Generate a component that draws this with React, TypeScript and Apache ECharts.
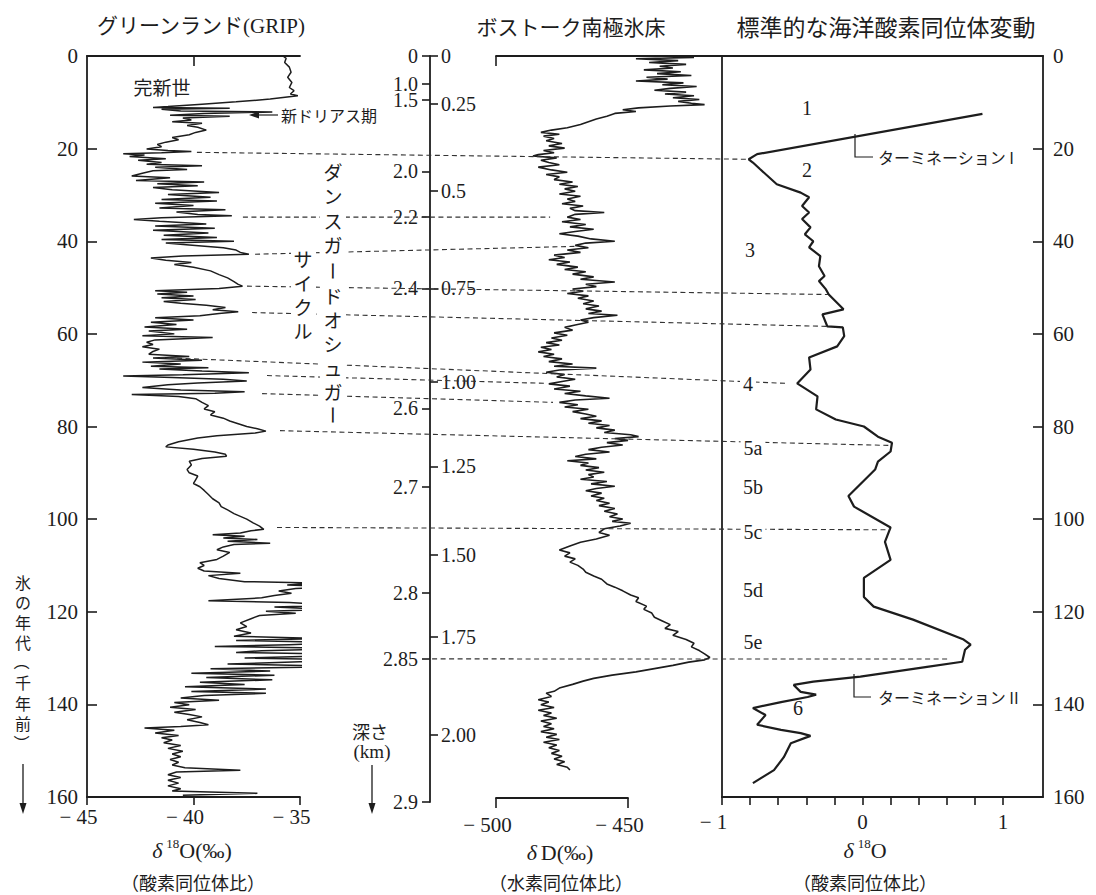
import React, { useEffect, useRef } from "react";
import * as echarts from "echarts";

const SERIF = "'Liberation Serif', 'DejaVu Serif', 'Noto Sans CJK JP', serif";
const JP = "'Noto Sans CJK JP', 'Noto Sans', sans-serif";
const INK = "#1d1d1d";

// ---------- tick values / labels ----------
const gripXRange = [-45, -35];
const vostokXRange = [-500, -450];
const marineXRange = [-1, 1];
const marineTicks = [-1, -0.8, -0.6, -0.4, -0.2, 0, 0.2, 0.4, 0.6, 0.8, 1];
const marineLabelTicks = [-1, 0, 1];
// Vostok depth (km) labels, placed at their age (kyr)
const depthLabels = ["0", "1.0", "1.5", "2.0", "2.2", "2.4", "2.6", "2.7", "2.8", "2.85", "2.9"];
const depthAges = [0, 6.1, 9.5, 24.9, 34.8, 50.2, 76.1, 93.0, 115.9, 130.2, 161.1];
const innerLabels = ["0", "0.25", "0.5", "0.75", "1.00", "1.25", "1.50", "1.75", "2.00"];
const innerAges = [0, 10.4, 29.2, 50.2, 70.3, 88.6, 107.7, 125.4, 146.6];

// ---------- data: [age (kyr BP), value] ----------
const gripData: [number, number][] = [
  [0, -35.8], [0.5, -35.65], [1.4, -35.72], [2.4, -35.5], [3.5, -35.42], [4.6, -35.58], [5.7, -35.38], [6.8, -35.5], [7.5, -35.28], [8.2, -35.45], [8.6, -35.1],
  [9.3, -36.4], [9.9, -38.0], [10.4, -39.6], [10.9, -41.2], [11.1, -41.9], [11.3, -38.3], [11.5, -41.5], [11.9, -40.6], [12.1, -36.3], [12.4, -39.5], [12.8, -41.1], [13.0, -38.3], [13.4, -40.5], [13.8, -40.1], [14.2, -41.0], [14.5, -39.6], [15.0, -40.3], [15.4, -39.8], [16.0, -39.4], [16.5, -39.9], [17.0, -40.2], [17.6, -41.0], [18.1, -40.7], [18.6, -41.3], [19.1, -41.7], [19.6, -41.5], [20.1, -42.2], [20.4, -41.2], [20.6, -40.1], [20.9, -41.5],
  [21.1, -43.3], [21.4, -42.3], [21.7, -43.0], [22.2, -41.3], [22.5, -42.6], [23.0, -41.5], [23.4, -42.2], [23.7, -39.6], [24.0, -41.8], [24.5, -40.3], [24.8, -41.9], [25.3, -42.4], [25.9, -42.9], [26.3, -41.1], [26.9, -42.7], [27.2, -39.5], [27.6, -41.7], [28.0, -39.8], [28.4, -41.9], [28.9, -41.0], [29.5, -38.8], [29.9, -41.2], [30.5, -39.2], [31.0, -41.5], [31.3, -38.9], [31.8, -41.8], [32.3, -40.0], [32.8, -41.6], [33.2, -38.5], [33.7, -40.8], [34.2, -39.8], [34.5, -38.2], [34.9, -41.5],
  [35.3, -42.8], [35.7, -41.6], [36.3, -39.4], [36.7, -41.8], [37.2, -39.0], [37.6, -41.9], [38.2, -39.3], [38.7, -41.4], [39.2, -38.9], [39.6, -41.5], [40.0, -38.1], [40.4, -41.3], [40.8, -40.2], [41.4, -38.6], [41.9, -38.0], [42.4, -37.8], [42.8, -37.4], [43.2, -40.5], [43.6, -42.0], [44.1, -41.3], [44.6, -40.1], [45.0, -40.9], [45.6, -40.0], [46.4, -39.2], [47.2, -38.8], [47.9, -38.4], [48.7, -38.1], [49.3, -37.9], [49.7, -37.7],
  [50.2, -38.8], [50.7, -41.8], [51.0, -40.3], [51.4, -41.7], [51.8, -40.0], [52.2, -41.5], [52.6, -39.9], [53.0, -41.4], [53.4, -40.6], [53.8, -39.4], [54.3, -38.5], [54.8, -39.1], [55.2, -37.9], [55.6, -38.8], [56.1, -39.7], [56.5, -41.8], [57.0, -40.0], [57.5, -42.0], [58.0, -40.8], [58.5, -42.3], [59.0, -40.3], [59.4, -42.1], [60.0, -40.9], [60.4, -42.4], [60.8, -39.1], [61.3, -41.8], [61.8, -42.2], [62.3, -41.9], [62.8, -42.4], [63.3, -41.6], [63.8, -41.9], [64.4, -42.1], [64.9, -40.2], [65.2, -41.9], [65.7, -39.6], [66.1, -42.4],
  [66.5, -40.6], [67.0, -42.0], [67.3, -39.3], [67.6, -41.6], [68.0, -39.6], [68.4, -37.4], [68.8, -40.5], [69.1, -43.3], [69.4, -41.0], [69.8, -38.6], [70.2, -37.5], [70.6, -39.8], [71.0, -41.2], [71.6, -42.4], [72.1, -40.6], [72.5, -37.6], [72.8, -39.0], [73.1, -42.9], [73.5, -40.7], [74.0, -39.9], [74.8, -39.6], [75.5, -39.3], [76.2, -39.5], [76.8, -39.0], [77.5, -39.2], [78.2, -38.6], [78.8, -38.3], [79.4, -37.9], [80.0, -37.5], [80.5, -37.0], [81.0, -36.6], [81.4, -37.1],
  [82.0, -38.9], [82.5, -39.8], [83.3, -40.7], [84.0, -41.2], [84.4, -41.3], [84.9, -40.0], [85.5, -39.0], [86.0, -38.5], [86.4, -38.45], [86.9, -39.6], [87.5, -40.2], [88.3, -40.1], [89.3, -40.3], [90.0, -40.2], [90.7, -39.8], [91.5, -39.9], [92.3, -40.0], [93.0, -39.7], [93.8, -39.5], [94.7, -39.3], [95.6, -39.1], [96.5, -38.8], [97.3, -38.7], [98.0, -38.4], [98.8, -38.1], [99.4, -37.8], [100.0, -37.5], [100.8, -37.2], [101.5, -36.9], [102.2, -36.7],
  [102.5, -37.3], [103.0, -37.8], [103.4, -39.1], [103.7, -37.6], [104.1, -38.6], [104.4, -37.0], [104.8, -38.4], [105.2, -36.4], [105.5, -38.1], [106.0, -38.6], [106.6, -38.9], [107.2, -38.3], [108.0, -38.6], [108.7, -38.9], [109.4, -39.7], [110.0, -39.5], [110.6, -39.8], [111.2, -39.5], [111.7, -37.8], [112.2, -39.3], [112.8, -38.8], [113.5, -37.6], [113.8, -34.3], [114.2, -35.6], [114.6, -33.6], [115.0, -35.2], [115.5, -36.0], [116.0, -35.4], [116.5, -36.2], [117.0, -36.8], [117.6, -39.3], [118.0, -35.5], [118.6, -33.0], [119.0, -36.2], [119.5, -33.3], [119.9, -36.6],
  [120.3, -35.2], [120.8, -36.9], [121.5, -37.3], [122.4, -37.8], [123.2, -37.5], [123.9, -38.0], [124.6, -37.3], [125.3, -38.1], [125.8, -33.8], [126.2, -38.0], [126.7, -32.5], [127.1, -35.5], [127.5, -39.0], [127.9, -32.4], [128.4, -36.8], [128.8, -38.0], [129.2, -32.5], [129.6, -34.5], [130.0, -37.6], [130.4, -32.4], [130.8, -35.0], [131.3, -38.4], [131.8, -32.4], [132.3, -39.2], [132.8, -36.4], [133.3, -40.1], [133.7, -36.2], [134.2, -39.4], [134.7, -36.3], [135.2, -39.7], [135.7, -37.6], [136.2, -40.4], [136.7, -36.6], [137.2, -40.1], [137.6, -36.6], [138.1, -39.5],
  [138.6, -40.6], [139.1, -38.8], [139.6, -40.9], [140.1, -40.2], [140.6, -41.1], [141.1, -39.9], [141.7, -40.9], [142.2, -40.2], [142.7, -39.6], [143.3, -40.3], [143.9, -39.7], [144.4, -39.3], [144.8, -40.6], [145.1, -42.3], [145.6, -40.9], [146.2, -41.8], [146.7, -40.7], [147.2, -41.5], [147.7, -41.0], [148.3, -41.4], [148.9, -40.6], [149.5, -41.2], [150.1, -40.5], [150.7, -41.0], [151.3, -40.6], [151.9, -41.1], [152.5, -40.7], [153.1, -41.0], [153.7, -40.4], [154.2, -37.8], [154.6, -40.8], [155.2, -41.2], [155.8, -40.6], [156.4, -41.2], [157.0, -40.7], [157.6, -41.2], [158.2, -40.6], [158.7, -41.0], [159.2, -37.0], [159.6, -40.5],
];

const vostokData: [number, number][] = [
  [0, -440], [0.3, -425], [0.6, -447], [1.0, -431], [1.4, -442], [1.8, -428], [2.2, -438], [2.6, -433], [3.0, -444], [3.4, -430], [3.8, -439], [4.2, -426], [4.6, -443], [5.0, -435], [5.4, -447], [5.8, -429], [6.2, -437], [6.6, -424], [7.0, -434], [7.4, -440], [7.8, -428], [8.2, -436], [8.6, -425], [9.0, -433], [9.4, -423], [9.8, -431], [10.2, -426], [10.5, -421], [10.8, -434],
  [11.2, -446], [11.6, -452], [12.0, -447], [12.4, -455], [13.0, -458], [13.6, -462], [14.2, -465], [14.8, -468], [15.5, -473], [16.0, -479], [16.5, -483], [16.9, -476], [17.3, -482], [17.8, -478], [18.3, -481], [18.9, -475], [19.4, -480], [19.9, -474], [20.4, -482], [20.9, -478], [21.3, -484], [21.6, -486], [22.0, -477], [22.5, -483], [23.0, -480], [23.5, -476], [24.0, -484], [24.6, -479], [25.1, -473], [25.6, -481], [26.1, -476], [26.7, -478], [27.2, -471], [27.7, -476], [28.2, -469], [28.7, -474], [29.2, -470], [29.8, -476], [30.3, -468], [30.9, -473], [31.4, -470], [31.9, -475], [32.4, -467], [32.9, -472], [33.4, -470], [33.8, -459], [34.2, -470], [34.8, -473], [35.3, -468], [35.8, -475], [36.4, -466], [36.9, -472], [37.4, -463], [37.9, -470], [38.4, -476], [38.9, -469], [39.5, -464], [40.0, -455], [40.4, -466], [40.9, -470], [41.4, -465], [41.9, -473], [42.4, -468], [43.0, -478], [43.5, -474], [44.0, -480], [44.5, -472], [45.0, -477], [45.6, -469], [46.1, -474], [46.6, -466], [47.1, -471], [47.7, -463], [48.2, -468], [48.8, -455], [49.3, -466], [49.8, -462], [50.3, -471], [50.8, -467], [51.3, -473], [51.8, -465], [52.3, -469], [52.9, -463], [53.5, -467], [54.0, -461], [54.6, -466], [55.1, -460], [55.6, -465], [56.0, -454], [56.5, -463], [57.0, -468], [57.5, -465], [58.1, -470], [58.6, -474], [59.2, -471], [59.8, -478], [60.3, -473], [60.9, -479], [61.4, -475], [61.9, -481], [62.4, -476], [62.9, -483], [63.4, -479], [63.9, -484], [64.4, -478], [64.9, -482], [65.4, -475], [66.0, -480], [66.5, -471], [67.0, -478], [67.4, -462], [67.8, -476], [68.3, -481], [68.8, -474], [69.3, -477], [69.8, -470], [70.3, -475], [70.8, -480], [71.3, -472], [71.9, -478], [72.4, -468], [72.9, -474], [73.4, -466], [73.9, -457], [74.3, -470], [74.8, -476], [75.3, -469], [75.8, -474], [76.3, -465], [76.8, -471], [77.3, -466], [77.8, -462], [78.3, -468], [78.8, -460], [79.3, -465], [79.8, -457], [80.3, -462], [80.8, -455], [81.3, -459], [81.8, -449], [82.2, -446], [82.6, -455], [83.0, -450], [83.5, -458], [84.0, -452], [84.5, -460], [85.0, -465], [85.5, -457], [86.0, -466], [86.5, -470], [87.0, -462], [87.4, -473], [87.9, -465], [88.4, -468], [88.9, -461], [89.4, -466], [89.9, -459], [90.4, -465], [90.9, -463], [91.4, -468], [91.9, -458], [92.4, -464], [92.9, -455], [93.4, -462], [93.9, -466], [94.4, -460], [95.0, -464], [95.5, -459], [96.0, -462], [96.6, -457], [97.1, -461], [97.7, -455], [98.3, -459], [98.9, -454], [99.5, -457], [100.0, -452], [100.5, -456], [100.9, -449], [101.5, -453], [102.1, -459], [102.9, -461], [103.5, -457], [104.3, -462], [105.0, -468], [105.8, -472], [106.7, -476], [107.3, -472], [108.0, -474], [108.6, -470], [109.3, -472], [110.0, -469], [110.8, -467], [111.5, -466], [112.3, -463], [113.0, -460], [114.0, -458], [114.7, -455], [115.5, -452], [116.4, -449], [117.0, -446], [117.8, -447], [118.8, -443], [119.5, -444], [120.3, -441], [121.2, -440], [122.0, -437], [122.8, -434], [123.6, -436], [124.3, -431], [125.1, -433], [126.0, -428], [126.8, -425], [127.6, -426], [128.4, -423], [129.1, -421], [129.9, -419], [130.4, -421], [130.9, -427], [131.6, -433], [132.3, -440], [133.0, -447], [133.7, -456], [134.4, -463], [135.0, -467], [135.7, -471], [136.5, -476], [137.2, -478], [137.6, -481], [138.3, -479], [139.0, -484], [139.5, -480], [140.1, -483], [140.7, -478], [141.3, -484], [141.9, -479], [142.4, -482], [143.0, -477], [143.6, -483], [144.2, -479], [144.8, -482], [145.3, -478], [145.9, -483], [146.5, -477], [147.1, -481], [147.6, -476], [148.2, -482], [148.8, -477], [149.4, -480], [150.0, -476], [150.6, -479], [151.2, -475], [151.8, -478], [152.4, -474], [153.0, -477], [153.6, -473], [154.2, -472],
];

const marineData: [number, number][] = [
  [12.5, 0.854], [21.2, -0.75], [22.3, -0.81], [23.0, -0.78], [24.4, -0.73], [27.7, -0.61], [29.5, -0.44], [30.5, -0.38], [32.4, -0.43], [33.8, -0.38], [35.2, -0.43], [37.0, -0.37], [38.5, -0.41], [40.0, -0.35], [41.3, -0.38], [43.2, -0.30], [45.4, -0.31], [47.5, -0.27], [48.6, -0.31], [50.4, -0.26], [51.5, -0.24], [54.7, -0.135], [55.8, -0.285], [58.4, -0.25], [58.6, -0.14], [60.5, -0.13], [62.7, -0.18], [65.1, -0.38], [67.7, -0.37], [70.7, -0.465], [73.5, -0.32], [76.3, -0.33], [78.5, -0.19], [80.0, 0.01], [82.2, 0.11], [83.5, 0.21], [85.4, 0.20], [87.6, 0.11], [89.3, 0.09], [95.0, -0.10], [97.3, -0.06], [101.8, 0.20], [104.9, 0.16], [108.8, 0.20], [112.7, 0.01], [116.8, 0.01], [118.9, 0.08], [121.7, 0.36], [126.0, 0.72], [127.1, 0.77], [128.2, 0.73], [130.8, 0.71], [131.9, 0.46], [134.0, -0.015], [135.1, -0.35], [135.8, -0.49], [137.3, -0.44], [137.9, -0.33], [138.4, -0.39], [139.5, -0.58], [140.8, -0.78], [142.3, -0.69], [144.4, -0.75], [145.5, -0.58], [146.2, -0.44], [146.8, -0.37], [148.4, -0.51], [151.4, -0.56], [154.2, -0.63], [157.0, -0.78],
];

// correlation (dashed) lines: [seriesIndex, value, age] -> [seriesIndex, value, age]
const corrLines: [number, number, number, number, number, number][] = [
  [0, -39.84, 20.8, 2, -0.82, 22.3],
  [0, -37.68, 34.8, 1, -479.5, 34.8],
  [0, -37.11, 42.8, 1, -469.3, 41.1],
  [0, -37.49, 49.7, 2, -0.245, 51.5],
  [0, -37.25, 55.4, 2, -0.23, 58.4],
  [0, -41.57, 65.1, 2, -0.53, 70.7],
  [0, -36.55, 69.0, 1, -480.7, 70.7],
  [0, -36.78, 72.9, 1, -478.4, 74.8],
  [0, -35.94, 80.9, 2, 0.21, 84.1],
  [0, -36.08, 101.8, 2, 0.196, 102.3],
  [1, -524.2, 130.2, 2, 0.623, 130.2],
];

const stageNames = ["1", "2", "3", "4", "5a", "5b", "5c", "5d", "5e", "6"];

const pick = (ages: number[], labels: string[]) => (v: number) => {
  let best = 0;
  for (let i = 0; i < ages.length; i++) if (Math.abs(ages[i] - v) < Math.abs(ages[best] - v)) best = i;
  return labels[best];
};

const numRich = {
  n: { fontSize: 21, fontFamily: SERIF, color: INK, padding: [0, 17, 0, 0] },
  p: { fontSize: 21, fontFamily: SERIF, color: INK },
};
const numFmt = (v: number) => (v < 0 ? `{n|− ${Math.abs(v)}}` : `{p|${v}}`);

const line = { show: true, onZero: false, lineStyle: { color: INK, width: 1.8 } };
const tickStyle = { color: INK, width: 1.6 };
const labelStyle = { fontSize: 21, fontFamily: SERIF, color: INK };

function txt(x: number, y: number, text: string, size: number, family = JP, extra: any = {}, rot = 0) {
  return {
    type: "text", x, y, z: 100, rotation: rot,
    style: {
      text, fill: INK, fontSize: size, fontFamily: family,
      align: "center", verticalAlign: "middle", textAlign: "center", textVerticalAlign: "middle",
      ...extra,
    },
  };
}

// vertical writing: runs of upright characters are stacked; ー and brackets are turned
function vertRun(x: number, yCenter: number, chars: string, size: number, lh: number) {
  return txt(x, yCenter, chars.split("").join("\n"), size, JP, { lineHeight: lh });
}
function vertTurned(x: number, y: number, ch: string, size: number) {
  return txt(x, y, ch, size, JP, { lineHeight: size }, -Math.PI / 2);
}

function arrowDown(x: number, y1: number, y2: number) {
  return [
    { type: "line", z: 100, shape: { x1: x, y1, x2: x, y2: y2 - 6 }, style: { stroke: INK, lineWidth: 1.3 } },
    { type: "polygon", z: 100, shape: { points: [[x, y2], [x - 3.5, y2 - 11], [x + 3.5, y2 - 11]] }, style: { fill: INK } },
  ];
}

export default function App() {
  const ref = useRef<HTMLDivElement>(null);
  useEffect(() => {
    document.body.style.margin = "0";
    const chart = echarts.init(ref.current!, undefined, { renderer: "svg" });
    const option: any = {
      animation: false,
      backgroundColor: "#ffffff",
      grid: [
        { left: 87, top: 56, width: 213, height: 741 },
        { left: 496, top: 56, width: 226, height: 746 },
        { left: 496, top: 56, width: 132, height: 742 },
        { left: 722, top: 56, width: 321, height: 741 },
      ],
      xAxis: [
        { gridIndex: 0, type: "value", position: "bottom", min: gripXRange[0], max: gripXRange[1], interval: 5, axisLine: line,
          axisTick: { show: true, inside: false, length: 8, lineStyle: tickStyle },
          axisLabel: { margin: 9, formatter: numFmt, rich: numRich }, splitLine: { show: false } },
        { gridIndex: 0, type: "value", position: "top", min: gripXRange[0], max: gripXRange[1], axisLine: line,
          axisTick: { show: true, inside: true, length: 10, customValues: [-40], lineStyle: tickStyle },
          axisLabel: { show: false }, splitLine: { show: false } },
        { gridIndex: 1, type: "value", position: "top", min: -500, max: -414.4, axisLine: line,
          axisTick: { show: true, inside: true, length: 10, customValues: [-500], lineStyle: tickStyle },
          axisLabel: { show: false }, splitLine: { show: false } },
        { gridIndex: 2, type: "value", position: "bottom", min: vostokXRange[0], max: vostokXRange[1], interval: 50, axisLine: line,
          axisTick: { show: true, inside: false, length: 10, lineStyle: tickStyle },
          axisLabel: { margin: 16, formatter: numFmt, rich: numRich }, splitLine: { show: false } },
        { gridIndex: 3, type: "value", position: "bottom", min: marineXRange[0], max: 1.285, axisLine: line,
          axisTick: { show: true, inside: false, length: 8, customValues: marineTicks, lineStyle: tickStyle },
          axisLabel: { margin: 14, customValues: marineLabelTicks, formatter: numFmt, rich: numRich }, splitLine: { show: false } },
        { gridIndex: 3, type: "value", position: "top", min: marineXRange[0], max: 1.285, axisLine: line,
          axisTick: { show: false }, axisLabel: { show: false }, splitLine: { show: false } },
      ],
      yAxis: [
        { gridIndex: 0, type: "value", inverse: true, min: 0, max: 160, interval: 20, position: "left", axisLine: line,
          axisTick: { show: true, inside: true, length: 10, lineStyle: tickStyle },
          axisLabel: { margin: 9, ...labelStyle }, splitLine: { show: false } },
        { gridIndex: 1, type: "value", inverse: true, min: 0, max: 161.1, position: "left", offset: 66, axisLine: line,
          axisTick: { show: true, inside: false, length: 8, customValues: depthAges, lineStyle: tickStyle },
          axisLabel: { margin: 12, customValues: depthAges, formatter: pick(depthAges, depthLabels), ...labelStyle, fontSize: 20, lineHeight: 15 }, splitLine: { show: false } },
        { gridIndex: 1, type: "value", inverse: true, min: 0, max: 161.1, position: "left", offset: 66, axisLine: { show: false, onZero: false },
          axisTick: { show: true, inside: true, length: 8, customValues: innerAges, lineStyle: tickStyle },
          axisLabel: { inside: true, margin: 11, customValues: innerAges, formatter: pick(innerAges, innerLabels), ...labelStyle, fontSize: 20, lineHeight: 15 }, splitLine: { show: false } },
        { gridIndex: 2, type: "value", show: false, min: 0, max: 160 },
        { gridIndex: 3, type: "value", inverse: true, min: 0, max: 160, interval: 20, position: "right", axisLine: line,
          axisTick: { show: true, inside: true, length: 10, lineStyle: tickStyle },
          axisLabel: { margin: 10, ...labelStyle }, splitLine: { show: false } },
        { gridIndex: 3, type: "value", inverse: true, min: 0, max: 160, position: "left", axisLine: line,
          axisTick: { show: false }, axisLabel: { show: false }, splitLine: { show: false } },
      ],
      series: [
        { type: "line", xAxisIndex: 0, yAxisIndex: 0, data: gripData.map(([a, v]) => [v, a]), symbol: "none", clip: false, silent: true,
          lineStyle: { color: INK, width: 1.5 }, z: 5 },
        { type: "line", xAxisIndex: 2, yAxisIndex: 1, data: vostokData.map(([a, v]) => [v, a]), symbol: "none", clip: false, silent: true,
          lineStyle: { color: INK, width: 1.6 }, z: 5 },
        { type: "line", xAxisIndex: 4, yAxisIndex: 4, data: marineData.map(([a, v]) => [v, a]), symbol: "none", clip: false, silent: true,
          lineStyle: { color: INK, width: 2.2 }, z: 5 },
      ],
    };
    chart.setOption(option);

    const dashed = corrLines.map(([s1, x1, a1, s2, x2, a2]) => {
      const p1 = chart.convertToPixel({ seriesIndex: s1 }, [x1, a1]) as number[];
      const p2 = chart.convertToPixel({ seriesIndex: s2 }, [x2, a2]) as number[];
      return { type: "line", z: 50, shape: { x1: p1[0], y1: p1[1], x2: p2[0], y2: p2[1] },
        style: { stroke: "#333", lineWidth: 1.1, lineDash: [5, 3.5] } };
    });

    const white = { backgroundColor: "#ffffff", padding: [1, 3, 1, 3] };
    const stagePos: [number, number][] = [[807, 108], [807, 170], [750, 250], [748, 384], [753, 448], [753, 487], [753, 532], [753, 590], [753, 642], [798, 708]];
    const stageWhite = ["4", "5a", "5c"];

    const graphics: any[] = [
      ...dashed,
      // titles
      txt(201, 26, "グリーンランド(GRIP)", 21, SERIF),
      txt(571, 26, "ボストーク南極氷床", 21),
      txt(886, 26, "標準的な海洋酸素同位体変動", 23),
      // GRIP annotations
      txt(162, 86, "完新世", 19),
      txt(281, 115, "新ドリアス期", 16, JP, { align: "left", textAlign: "left" }),
      { type: "line", z: 100, shape: { x1: 256, y1: 115, x2: 278, y2: 115 }, style: { stroke: INK, lineWidth: 1.2 } },
      { type: "polygon", z: 100, shape: { points: [[249, 115], [259, 111.5], [259, 118.5]] }, style: { fill: INK } },
      // white panels behind vertical texts
      { type: "rect", z: 90, shape: { x: 320, y: 158, width: 26, height: 270 }, style: { fill: "#ffffff" } },
      { type: "rect", z: 90, shape: { x: 291, y: 245, width: 25, height: 98 }, style: { fill: "#ffffff" } },
      // ダンスガードオシュガー (vertical)
      vertRun(333, 208, "ダンスガ", 19, 24.5),
      vertTurned(333, 271, "ー", 19),
      vertRun(333, 343.5, "ドオシュガ", 19, 24),
      vertTurned(333, 415, "ー", 19),
      // サイクル (vertical)
      vertRun(303, 294, "サイクル", 19, 24),
      // y title 氷の年代(千年前)
      vertRun(23, 612, "氷の年代", 16, 20),
      vertTurned(23, 662, "（", 16),
      vertRun(23, 702.5, "千年前", 16, 20.5),
      vertTurned(23, 743, "）", 16),
      ...arrowDown(23, 764, 814),
      // depth label
      txt(370, 731, "深さ", 18, JP, { lineHeight: 18 }),
      txt(372, 751, "(km)", 19, SERIF, { lineHeight: 18 }),
      ...arrowDown(372, 765, 814),
      // x titles
      { type: "text", x: 192, y: 850, z: 100, style: { text: "{i|δ}{s|18}{n|O(‰)}", align: "center", verticalAlign: "middle", textAlign: "center", textVerticalAlign: "middle",
        rich: { i: { fontSize: 22, fontStyle: "italic", fontFamily: SERIF, fill: INK, padding: [0, 4, 0, 0], lineHeight: 26 }, s: { fontSize: 13, fontFamily: SERIF, fill: INK, verticalAlign: "top", lineHeight: 26 }, n: { fontSize: 22, fontFamily: SERIF, fill: INK, lineHeight: 26 } } } },
      { type: "text", x: 560, y: 852, z: 100, style: { text: "{i|δ}{n|D(‰)}", align: "center", verticalAlign: "middle", textAlign: "center", textVerticalAlign: "middle",
        rich: { i: { fontSize: 22, fontStyle: "italic", fontFamily: SERIF, fill: INK, padding: [0, 4, 0, 0] }, n: { fontSize: 22, fontFamily: SERIF, fill: INK } } } },
      { type: "text", x: 865, y: 850, z: 100, style: { text: "{i|δ}{s|18}{n|O}", align: "center", verticalAlign: "middle", textAlign: "center", textVerticalAlign: "middle",
        rich: { i: { fontSize: 22, fontStyle: "italic", fontFamily: SERIF, fill: INK, padding: [0, 4, 0, 0], lineHeight: 26 }, s: { fontSize: 13, fontFamily: SERIF, fill: INK, verticalAlign: "top", lineHeight: 26 }, n: { fontSize: 22, fontFamily: SERIF, fill: INK, lineHeight: 26 } } } },
      txt(193, 882, "（酸素同位体比）", 18),
      txt(561, 882, "（水素同位体比）", 18),
      txt(865, 882, "（酸素同位体比）", 18),
      // marine stages
      ...stageNames.map((s, i) => txt(stagePos[i][0], stagePos[i][1], s, 20, SERIF, stageWhite.includes(s) ? white : {})),
      // terminations
      { type: "polyline", z: 100, shape: { points: [[855, 134], [855, 157], [873, 157]] }, style: { stroke: INK, lineWidth: 1.2, fill: "none" } },
      txt(878, 157, "ターミネーション I", 16, JP, { align: "left", textAlign: "left" }),
      { type: "polyline", z: 100, shape: { points: [[854, 674], [854, 697], [871, 697]] }, style: { stroke: INK, lineWidth: 1.2, fill: "none" } },
      txt(878, 697, "ターミネーション II", 16, JP, { align: "left", textAlign: "left" }),
    ];
    chart.setOption({ graphic: graphics });
    return () => chart.dispose();
  }, []);
  return <div ref={ref} style={{ width: 1096, height: 895 }} />;
}
